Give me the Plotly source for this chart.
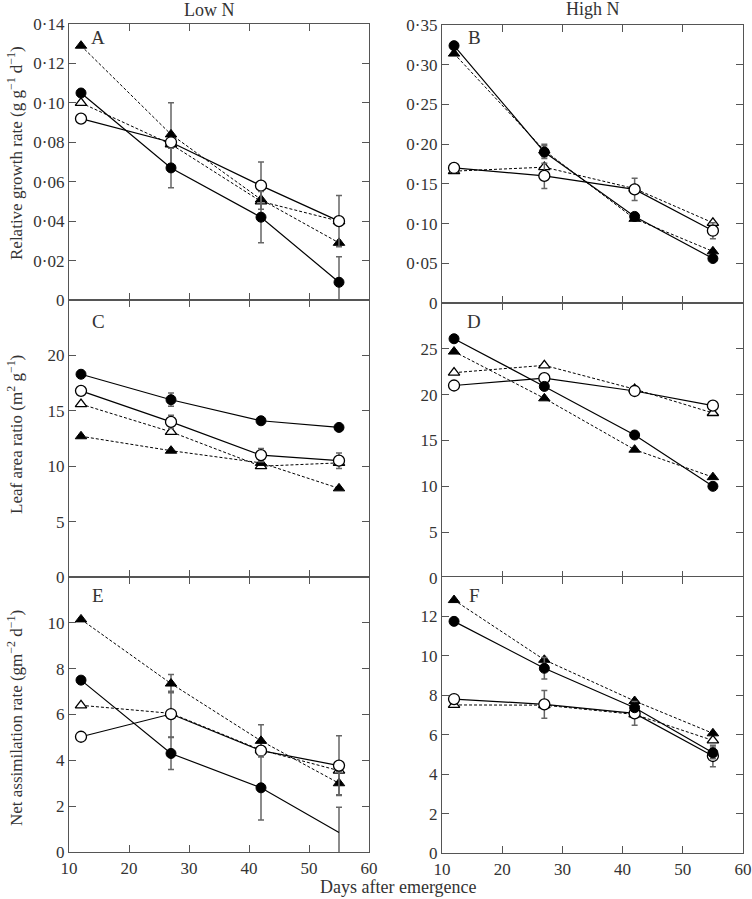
import plotly.graph_objects as go

days = [12, 27, 42, 55]

# Panel A: RGR, low N
A_fc = [0.105, 0.067, 0.042, 0.009]; A_fc_err = [None, 0.010, 0.013, 0.013]
A_oc = [0.092, 0.080, 0.058, 0.040]; A_oc_err = [None, None, 0.012, 0.013]
A_ft = [0.129, 0.084, 0.051, 0.029]; A_ft_err = [None, 0.016, None, None]
A_ot = [0.100, 0.079, 0.050, 0.040]; A_ot_err = [None, None, None, None]

# Panel B: RGR, high N
B_fc = [0.324, 0.190, 0.109, 0.056]; B_fc_err = [None, 0.008, None, None]
B_oc = [0.170, 0.160, 0.143, 0.091]; B_oc_err = [None, 0.016, 0.014, 0.010]
B_ft = [0.314, 0.192, 0.106, 0.065]; B_ft_err = [None, 0.008, None, None]
B_ot = [0.166, 0.171, 0.144, 0.101]; B_ot_err = [None, None, None, None]

# Panel C: LAR, low N
C_fc = [18.3, 16.0, 14.1, 13.5]; C_fc_err = [None, 0.6, 0.3, None]
C_oc = [16.8, 14.0, 11.0, 10.5]; C_oc_err = [None, 0.6, 0.6, 0.7]
C_ft = [12.7, 11.4, 10.3, 8.0]; C_ft_err = [None, None, None, None]
C_ot = [15.6, 13.1, 10.0, 10.3]; C_ot_err = [None, None, None, None]

# Panel D: LAR, high N
D_fc = [26.1, 20.9, 15.6, 10.0]; D_fc_err = [None, None, None, None]
D_oc = [21.0, 21.8, 20.4, 18.8]; D_oc_err = [None, None, None, None]
D_ft = [24.7, 19.6, 14.0, 11.0]; D_ft_err = [None, None, None, None]
D_ot = [22.4, 23.2, 20.6, 18.0]; D_ot_err = [None, None, None, None]

# Panel E: NAR, low N
E_fc = [7.5, 4.3, 2.8, 0.85]; E_fc_err = [None, 0.7, 1.4, 1.1]
E_oc = [5.03, 6.02, 4.42, 3.77]; E_oc_err = [None, 1.0, None, 1.3]
E_ft = [10.15, 7.35, 4.85, 3.0]; E_ft_err = [None, 0.4, 0.7, 0.5]
E_ot = [6.4, 6.05, 4.45, 3.55]; E_ot_err = [None, None, None, None]

# Panel F: NAR, high N
F_fc = [11.75, 9.37, 7.37, 5.08]; F_fc_err = [None, 0.55, None, 0.3]
F_oc = [7.81, 7.54, 7.08, 4.92]; F_oc_err = [None, 0.7, 0.6, 0.55]
F_ft = [12.83, 9.8, 7.71, 6.07]; F_ft_err = [None, None, None, None]
F_ot = [7.51, 7.5, 7.03, 5.71]; F_ot_err = [None, None, None, None]

A_ticks = [0, 0.02, 0.04, 0.06, 0.08, 0.10, 0.12, 0.14]
A_labels = ["0", "0·02", "0·04", "0·06", "0·08", "0·10", "0·12", "0·14"]
B_ticks = [0, 0.05, 0.10, 0.15, 0.20, 0.25, 0.30, 0.35]
B_labels = ["0", "0·05", "0·10", "0·15", "0·20", "0·25", "0·30", "0·35"]
C_ticks = [0, 5, 10, 15, 20]
D_ticks = [0, 5, 10, 15, 20, 25]
E_ticks = [0, 2, 4, 6, 8, 10]
F_ticks = [0, 2, 4, 6, 8, 10, 12]
x_ticks = [10, 20, 30, 40, 50, 60]

W, H = 752, 899

def px_x(a, b):
    return [a / W, b / W]

def px_y(top, bottom):
    return [1 - bottom / H, 1 - top / H]

def pt(x, y):
    return x / W, 1 - y / H

panels = [
    ("A", px_x(69, 369), px_y(24, 300), [0, 0.14], A_ticks, A_labels,
     (A_fc, A_fc_err, A_oc, A_oc_err, A_ft, A_ft_err, A_ot, A_ot_err), (98, 38), False),
    ("B", px_x(442, 743), px_y(25, 303), [0, 0.35], B_ticks, B_labels,
     (B_fc, B_fc_err, B_oc, B_oc_err, B_ft, B_ft_err, B_ot, B_ot_err), (474, 38), False),
    ("C", px_x(69, 369), px_y(300, 577), [0, 25], C_ticks, [str(t) for t in C_ticks],
     (C_fc, C_fc_err, C_oc, C_oc_err, C_ft, C_ft_err, C_ot, C_ot_err), (98, 322), False),
    ("D", px_x(442, 743), px_y(303, 578), [0, 30], D_ticks, [str(t) for t in D_ticks],
     (D_fc, D_fc_err, D_oc, D_oc_err, D_ft, D_ft_err, D_ot, D_ot_err), (474, 322), False),
    ("E", px_x(69, 369), px_y(577, 852), [0, 12], E_ticks, [str(t) for t in E_ticks],
     (E_fc, E_fc_err, E_oc, E_oc_err, E_ft, E_ft_err, E_ot, E_ot_err), (98, 595), True),
    ("F", px_x(442, 743), px_y(577, 853), [0, 14], F_ticks, [str(t) for t in F_ticks],
     (F_fc, F_fc_err, F_oc, F_oc_err, F_ft, F_ft_err, F_ot, F_ot_err), (474, 595), True),
]

FONT = "Liberation Serif"
AXC = "#555555"
TXT = "#333333"
ERRC = "#666666"

fig = go.Figure()
layout = {}
annotations = []

def err(arr):
    return dict(type="data", array=arr, visible=True, color=ERRC,
                thickness=1.5, width=3)

for i, (name, xd, yd, yr, yt, yl, data, lpos, showx) in enumerate(panels):
    n = i + 1
    xa = "x" if n == 1 else f"x{n}"
    ya = "y" if n == 1 else f"y{n}"
    fc, fce, oc, oce, ft, fte, ot, ote = data

    fc_sizes = [10] * len(days)
    if name == "E":
        fc_sizes[-1] = 0
    fig.add_trace(go.Scatter(x=days, y=ot, xaxis=xa, yaxis=ya, mode="lines+markers",
        line=dict(color="black", width=1, dash="3px,2px"),
        marker=dict(symbol="triangle-up", size=10, color="white", opacity=1,
                    line=dict(color="black", width=1.3)),
        error_y=err(ote), showlegend=False))
    fig.add_trace(go.Scatter(x=days, y=ft, xaxis=xa, yaxis=ya, mode="lines+markers",
        line=dict(color="black", width=1, dash="3px,2px"),
        marker=dict(symbol="triangle-up", size=10, color="black", opacity=1,
                    line=dict(color="black", width=1)),
        error_y=err(fte), showlegend=False))
    fig.add_trace(go.Scatter(x=days, y=oc, xaxis=xa, yaxis=ya, mode="lines+markers",
        line=dict(color="black", width=1.2),
        marker=dict(symbol="circle", size=11, color="white", opacity=1,
                    line=dict(color="black", width=1.3)),
        error_y=err(oce), showlegend=False))
    fig.add_trace(go.Scatter(x=days, y=fc, xaxis=xa, yaxis=ya, mode="lines+markers",
        line=dict(color="black", width=1.2),
        marker=dict(symbol="circle", size=fc_sizes, color="black", opacity=1,
                    line=dict(color="black", width=1)),
        error_y=err(fce), showlegend=False))

    xkey = "xaxis" if n == 1 else f"xaxis{n}"
    ykey = "yaxis" if n == 1 else f"yaxis{n}"
    layout[xkey] = dict(domain=xd, anchor=ya, range=[10, 60], tickvals=x_ticks,
        ticks="inside", ticklen=7, tickwidth=1.2, tickcolor=AXC,
        showline=True, linecolor=AXC, linewidth=1.2, mirror="allticks",
        showgrid=False, zeroline=False, showticklabels=showx,
        tickfont=dict(family=FONT, size=17, color=TXT), automargin=False)
    layout[ykey] = dict(domain=yd, anchor=xa, range=yr, tickvals=yt, ticktext=yl,
        ticks="inside", ticklen=7, tickwidth=1.2, tickcolor=AXC,
        showline=True, linecolor=AXC, linewidth=1.2, mirror="allticks",
        showgrid=False, zeroline=False,
        tickfont=dict(family=FONT, size=17, color=TXT), automargin=False)
    lx, ly = pt(*lpos)
    annotations.append(dict(text=name, x=lx, y=ly, xref="paper", yref="paper",
        showarrow=False, font=dict(family=FONT, size=19, color=TXT),
        xanchor="center", yanchor="middle"))

for txt, (px, py), sz in [("Low N", (210, 10), 18), ("High N", (593, 9), 18),
                          ("Days after emergence", (398, 887), 18)]:
    ax_, ay_ = pt(px, py)
    annotations.append(dict(text=txt, x=ax_, y=ay_, xref="paper", yref="paper",
        showarrow=False, font=dict(family=FONT, size=sz, color=TXT),
        xanchor="center", yanchor="middle"))

for txt, yc in [("Relative growth rate (g g<sup>−1</sup> d<sup>−1</sup>)", 153),
                ("Leaf area ratio (m<sup>2</sup> g<sup>−1</sup>)", 435),
                ("Net assimilation rate (gm<sup>−2</sup> d<sup>−1</sup>)", 718)]:
    ax_, ay_ = pt(15, yc)
    annotations.append(dict(text=txt, x=ax_, y=ay_, xref="paper", yref="paper",
        showarrow=False, textangle=-90, font=dict(family=FONT, size=17, color=TXT),
        xanchor="center", yanchor="middle"))

fig.update_layout(**layout)
fig.update_layout(width=W, height=H, margin=dict(l=0, r=0, t=0, b=0),
    paper_bgcolor="white", plot_bgcolor="white", annotations=annotations,
    font=dict(family=FONT, color=TXT))

fig.write_html("out.html", config={"displayModeBar": False},
               post_script="document.body.style.margin='0px';document.body.style.overflow='hidden';")
